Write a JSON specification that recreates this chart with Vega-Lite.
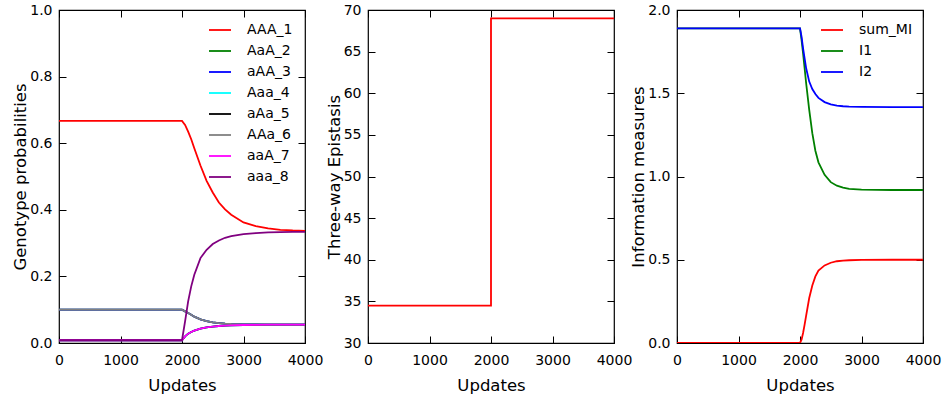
{
  "$schema": "https://vega.github.io/schema/vega-lite/v6.json",
  "padding": {"left": 12, "top": 2, "right": 5, "bottom": 5},
  "background": "white",
  "spacing": 63,
  "bounds": "flush",
  "config": {
    "font": "DejaVu Sans",
    "view": {"stroke": "#000", "strokeWidth": 1.2},
    "axis": {
      "domain": false, "grid": false,
      "labelFont": "DejaVu Sans", "labelFontSize": 14, "labelColor": "#000",
      "titleFont": "DejaVu Sans", "titleFontSize": 16.5, "titleFontWeight": "normal", "titleColor": "#000",
      "tickColor": "#000", "tickSize": -7, "tickWidth": 1,
      "labelFlush": false, "labelOverlap": false
    },
    "axisX": {"labelPadding": 17, "titlePadding": 10, "format": "d"},
    "axisY": {"labelPadding": 14, "titlePadding": 1},
    "legend": {
      "labelFont": "DejaVu Sans", "labelFontSize": 14, "labelColor": "#000",
      "symbolType": "stroke", "symbolStrokeWidth": 2, "symbolSize": 484,
      "padding": 0, "rowPadding": 2, "labelOffset": 15
    },
    "line": {"strokeWidth": 1.8}
  },
  "resolve": {"scale": {"color": "independent"}, "legend": {"color": "independent"}},
  "datasets": {
    "geno": [
      {"t": 0, "g": "AAA_1", "p": 0.667}, {"t": 2000, "g": "AAA_1", "p": 0.667}, {"t": 2050, "g": "AAA_1", "p": 0.655}, {"t": 2100, "g": "AAA_1", "p": 0.635}, {"t": 2150, "g": "AAA_1", "p": 0.612}, {"t": 2200, "g": "AAA_1", "p": 0.585}, {"t": 2300, "g": "AAA_1", "p": 0.533}, {"t": 2400, "g": "AAA_1", "p": 0.487}, {"t": 2500, "g": "AAA_1", "p": 0.452}, {"t": 2600, "g": "AAA_1", "p": 0.422}, {"t": 2700, "g": "AAA_1", "p": 0.401}, {"t": 2800, "g": "AAA_1", "p": 0.385}, {"t": 3000, "g": "AAA_1", "p": 0.362}, {"t": 3200, "g": "AAA_1", "p": 0.351}, {"t": 3400, "g": "AAA_1", "p": 0.344}, {"t": 3600, "g": "AAA_1", "p": 0.34}, {"t": 3800, "g": "AAA_1", "p": 0.338}, {"t": 4000, "g": "AAA_1", "p": 0.337},

      {"t": 0, "g": "AaA_2", "p": 0.1}, {"t": 2000, "g": "AaA_2", "p": 0.1}, {"t": 2050, "g": "AaA_2", "p": 0.095}, {"t": 2100, "g": "AaA_2", "p": 0.09}, {"t": 2150, "g": "AaA_2", "p": 0.085}, {"t": 2200, "g": "AaA_2", "p": 0.079}, {"t": 2300, "g": "AaA_2", "p": 0.071}, {"t": 2400, "g": "AaA_2", "p": 0.066}, {"t": 2500, "g": "AaA_2", "p": 0.062}, {"t": 2600, "g": "AaA_2", "p": 0.06}, {"t": 2700, "g": "AaA_2", "p": 0.058}, {"t": 2800, "g": "AaA_2", "p": 0.057}, {"t": 3000, "g": "AaA_2", "p": 0.056}, {"t": 3200, "g": "AaA_2", "p": 0.0555}, {"t": 3400, "g": "AaA_2", "p": 0.055}, {"t": 3600, "g": "AaA_2", "p": 0.055}, {"t": 3800, "g": "AaA_2", "p": 0.055}, {"t": 4000, "g": "AaA_2", "p": 0.055},

      {"t": 0, "g": "aAA_3", "p": 0.1}, {"t": 2000, "g": "aAA_3", "p": 0.1}, {"t": 2050, "g": "aAA_3", "p": 0.095}, {"t": 2100, "g": "aAA_3", "p": 0.09}, {"t": 2150, "g": "aAA_3", "p": 0.085}, {"t": 2200, "g": "aAA_3", "p": 0.079}, {"t": 2300, "g": "aAA_3", "p": 0.071}, {"t": 2400, "g": "aAA_3", "p": 0.066}, {"t": 2500, "g": "aAA_3", "p": 0.062}, {"t": 2600, "g": "aAA_3", "p": 0.06}, {"t": 2700, "g": "aAA_3", "p": 0.058}, {"t": 2800, "g": "aAA_3", "p": 0.057}, {"t": 3000, "g": "aAA_3", "p": 0.056}, {"t": 3200, "g": "aAA_3", "p": 0.0555}, {"t": 3400, "g": "aAA_3", "p": 0.055}, {"t": 3600, "g": "aAA_3", "p": 0.055}, {"t": 3800, "g": "aAA_3", "p": 0.055}, {"t": 4000, "g": "aAA_3", "p": 0.055},

      {"t": 0, "g": "Aaa_4", "p": 0.0083}, {"t": 2000, "g": "Aaa_4", "p": 0.0083}, {"t": 2050, "g": "Aaa_4", "p": 0.02}, {"t": 2100, "g": "Aaa_4", "p": 0.028}, {"t": 2150, "g": "Aaa_4", "p": 0.033}, {"t": 2200, "g": "Aaa_4", "p": 0.037}, {"t": 2300, "g": "Aaa_4", "p": 0.043}, {"t": 2400, "g": "Aaa_4", "p": 0.047}, {"t": 2500, "g": "Aaa_4", "p": 0.049}, {"t": 2600, "g": "Aaa_4", "p": 0.051}, {"t": 2700, "g": "Aaa_4", "p": 0.052}, {"t": 2800, "g": "Aaa_4", "p": 0.053}, {"t": 3000, "g": "Aaa_4", "p": 0.054}, {"t": 3200, "g": "Aaa_4", "p": 0.0545}, {"t": 3400, "g": "Aaa_4", "p": 0.055}, {"t": 3600, "g": "Aaa_4", "p": 0.055}, {"t": 3800, "g": "Aaa_4", "p": 0.055}, {"t": 4000, "g": "Aaa_4", "p": 0.055},

      {"t": 0, "g": "aAa_5", "p": 0.0083}, {"t": 2000, "g": "aAa_5", "p": 0.0083}, {"t": 2050, "g": "aAa_5", "p": 0.02}, {"t": 2100, "g": "aAa_5", "p": 0.028}, {"t": 2150, "g": "aAa_5", "p": 0.033}, {"t": 2200, "g": "aAa_5", "p": 0.037}, {"t": 2300, "g": "aAa_5", "p": 0.043}, {"t": 2400, "g": "aAa_5", "p": 0.047}, {"t": 2500, "g": "aAa_5", "p": 0.049}, {"t": 2600, "g": "aAa_5", "p": 0.051}, {"t": 2700, "g": "aAa_5", "p": 0.052}, {"t": 2800, "g": "aAa_5", "p": 0.053}, {"t": 3000, "g": "aAa_5", "p": 0.054}, {"t": 3200, "g": "aAa_5", "p": 0.0545}, {"t": 3400, "g": "aAa_5", "p": 0.055}, {"t": 3600, "g": "aAa_5", "p": 0.055}, {"t": 3800, "g": "aAa_5", "p": 0.055}, {"t": 4000, "g": "aAa_5", "p": 0.055},

      {"t": 0, "g": "AAa_6", "p": 0.1}, {"t": 2000, "g": "AAa_6", "p": 0.1}, {"t": 2050, "g": "AAa_6", "p": 0.095}, {"t": 2100, "g": "AAa_6", "p": 0.09}, {"t": 2150, "g": "AAa_6", "p": 0.085}, {"t": 2200, "g": "AAa_6", "p": 0.079}, {"t": 2300, "g": "AAa_6", "p": 0.071}, {"t": 2400, "g": "AAa_6", "p": 0.066}, {"t": 2500, "g": "AAa_6", "p": 0.062}, {"t": 2600, "g": "AAa_6", "p": 0.06}, {"t": 2700, "g": "AAa_6", "p": 0.058}, {"t": 2800, "g": "AAa_6", "p": 0.057}, {"t": 3000, "g": "AAa_6", "p": 0.056}, {"t": 3200, "g": "AAa_6", "p": 0.0555}, {"t": 3400, "g": "AAa_6", "p": 0.055}, {"t": 3600, "g": "AAa_6", "p": 0.055}, {"t": 3800, "g": "AAa_6", "p": 0.055}, {"t": 4000, "g": "AAa_6", "p": 0.055},

      {"t": 0, "g": "aaA_7", "p": 0.0083}, {"t": 2000, "g": "aaA_7", "p": 0.0083}, {"t": 2050, "g": "aaA_7", "p": 0.02}, {"t": 2100, "g": "aaA_7", "p": 0.028}, {"t": 2150, "g": "aaA_7", "p": 0.033}, {"t": 2200, "g": "aaA_7", "p": 0.037}, {"t": 2300, "g": "aaA_7", "p": 0.043}, {"t": 2400, "g": "aaA_7", "p": 0.047}, {"t": 2500, "g": "aaA_7", "p": 0.049}, {"t": 2600, "g": "aaA_7", "p": 0.051}, {"t": 2700, "g": "aaA_7", "p": 0.052}, {"t": 2800, "g": "aaA_7", "p": 0.053}, {"t": 3000, "g": "aaA_7", "p": 0.054}, {"t": 3200, "g": "aaA_7", "p": 0.0545}, {"t": 3400, "g": "aaA_7", "p": 0.055}, {"t": 3600, "g": "aaA_7", "p": 0.055}, {"t": 3800, "g": "aaA_7", "p": 0.055}, {"t": 4000, "g": "aaA_7", "p": 0.055},

      {"t": 0, "g": "aaa_8", "p": 0.0083}, {"t": 2000, "g": "aaa_8", "p": 0.0083}, {"t": 2050, "g": "aaa_8", "p": 0.065}, {"t": 2100, "g": "aaa_8", "p": 0.125}, {"t": 2150, "g": "aaa_8", "p": 0.17}, {"t": 2200, "g": "aaa_8", "p": 0.205}, {"t": 2300, "g": "aaa_8", "p": 0.255}, {"t": 2400, "g": "aaa_8", "p": 0.28}, {"t": 2500, "g": "aaa_8", "p": 0.297}, {"t": 2600, "g": "aaa_8", "p": 0.308}, {"t": 2700, "g": "aaa_8", "p": 0.316}, {"t": 2800, "g": "aaa_8", "p": 0.321}, {"t": 3000, "g": "aaa_8", "p": 0.327}, {"t": 3200, "g": "aaa_8", "p": 0.33}, {"t": 3400, "g": "aaa_8", "p": 0.332}, {"t": 3600, "g": "aaa_8", "p": 0.333}, {"t": 3800, "g": "aaa_8", "p": 0.334}, {"t": 4000, "g": "aaa_8", "p": 0.334}
    ],
    "epi": [
      {"t": 0, "e": 34.5}, {"t": 2000, "e": 69}, {"t": 4000, "e": 69}
    ],
    "info": [
      {"t": 0, "m": "sum_MI", "v": 0}, {"t": 2000, "m": "sum_MI", "v": 0}, {"t": 2025, "m": "sum_MI", "v": 0.02}, {"t": 2050, "m": "sum_MI", "v": 0.06}, {"t": 2075, "m": "sum_MI", "v": 0.11}, {"t": 2100, "m": "sum_MI", "v": 0.165}, {"t": 2150, "m": "sum_MI", "v": 0.27}, {"t": 2200, "m": "sum_MI", "v": 0.345}, {"t": 2250, "m": "sum_MI", "v": 0.4}, {"t": 2300, "m": "sum_MI", "v": 0.435}, {"t": 2400, "m": "sum_MI", "v": 0.466}, {"t": 2500, "m": "sum_MI", "v": 0.482}, {"t": 2600, "m": "sum_MI", "v": 0.491}, {"t": 2700, "m": "sum_MI", "v": 0.495}, {"t": 2800, "m": "sum_MI", "v": 0.497}, {"t": 3000, "m": "sum_MI", "v": 0.499}, {"t": 3500, "m": "sum_MI", "v": 0.5}, {"t": 4000, "m": "sum_MI", "v": 0.5},

      {"t": 0, "m": "I1", "v": 1.89}, {"t": 2000, "m": "I1", "v": 1.89}, {"t": 2025, "m": "I1", "v": 1.82}, {"t": 2050, "m": "I1", "v": 1.74}, {"t": 2075, "m": "I1", "v": 1.65}, {"t": 2100, "m": "I1", "v": 1.56}, {"t": 2150, "m": "I1", "v": 1.4}, {"t": 2200, "m": "I1", "v": 1.26}, {"t": 2250, "m": "I1", "v": 1.155}, {"t": 2300, "m": "I1", "v": 1.085}, {"t": 2400, "m": "I1", "v": 1.01}, {"t": 2500, "m": "I1", "v": 0.966}, {"t": 2600, "m": "I1", "v": 0.945}, {"t": 2700, "m": "I1", "v": 0.933}, {"t": 2800, "m": "I1", "v": 0.926}, {"t": 3000, "m": "I1", "v": 0.921}, {"t": 3500, "m": "I1", "v": 0.919}, {"t": 4000, "m": "I1", "v": 0.919},

      {"t": 0, "m": "I2", "v": 1.89}, {"t": 2000, "m": "I2", "v": 1.89}, {"t": 2025, "m": "I2", "v": 1.84}, {"t": 2050, "m": "I2", "v": 1.77}, {"t": 2075, "m": "I2", "v": 1.71}, {"t": 2100, "m": "I2", "v": 1.65}, {"t": 2150, "m": "I2", "v": 1.57}, {"t": 2200, "m": "I2", "v": 1.525}, {"t": 2250, "m": "I2", "v": 1.495}, {"t": 2300, "m": "I2", "v": 1.472}, {"t": 2400, "m": "I2", "v": 1.447}, {"t": 2500, "m": "I2", "v": 1.433}, {"t": 2600, "m": "I2", "v": 1.426}, {"t": 2700, "m": "I2", "v": 1.422}, {"t": 2800, "m": "I2", "v": 1.42}, {"t": 3000, "m": "I2", "v": 1.418}, {"t": 3500, "m": "I2", "v": 1.417}, {"t": 4000, "m": "I2", "v": 1.417}
    ]
  },
  "hconcat": [
    {
      "width": 246, "height": 333,
      "data": {"name": "geno"},
      "layer": [
        {
          "mark": {"type": "line", "clip": true},
          "encoding": {
            "x": {"field": "t", "type": "quantitative", "scale": {"domain": [0, 4000], "nice": false, "zero": false}, "axis": {"orient": "bottom", "values": [0, 1000, 2000, 3000, 4000], "title": "Updates"}},
            "y": {"field": "p", "type": "quantitative", "scale": {"domain": [0, 1], "nice": false}, "axis": {"orient": "left", "values": [0, 0.2, 0.4, 0.6, 0.8, 1.0], "format": ".1f", "title": "Genotype probabilities"}},
            "color": {"field": "g", "type": "nominal",
              "scale": {"domain": ["AAA_1", "AaA_2", "aAA_3", "Aaa_4", "aAa_5", "AAa_6", "aaA_7", "aaa_8"], "range": ["#ff0000", "#008000", "#0000ff", "#00ffff", "#000000", "#808080", "#ff00ff", "#800080"]},
              "legend": {"title": null, "orient": "none", "legendX": 149, "legendY": 8}}
          }
        },
        {
          "mark": {"type": "line", "opacity": 0},
          "encoding": {
            "x": {"field": "t", "type": "quantitative", "axis": {"orient": "top", "values": [0, 1000, 2000, 3000, 4000], "labels": false, "title": null}},
            "y": {"field": "p", "type": "quantitative", "axis": {"orient": "right", "values": [0, 0.2, 0.4, 0.6, 0.8, 1.0], "labels": false, "title": null}},
            "detail": {"field": "g"}
          }
        }
      ]
    },
    {
      "width": 246, "height": 333,
      "data": {"name": "epi"},
      "layer": [
        {
          "mark": {"type": "line", "interpolate": "step-after", "color": "#ff0000", "clip": true},
          "encoding": {
            "x": {"field": "t", "type": "quantitative", "scale": {"domain": [0, 4000], "nice": false, "zero": false}, "axis": {"orient": "bottom", "values": [0, 1000, 2000, 3000, 4000], "title": "Updates"}},
            "y": {"field": "e", "type": "quantitative", "scale": {"domain": [30, 70], "nice": false, "zero": false}, "axis": {"orient": "left", "values": [30, 35, 40, 45, 50, 55, 60, 65, 70], "title": "Three-way Epistasis"}}
          }
        },
        {
          "mark": {"type": "line", "opacity": 0},
          "encoding": {
            "x": {"field": "t", "type": "quantitative", "axis": {"orient": "top", "values": [0, 1000, 2000, 3000, 4000], "labels": false, "title": null}},
            "y": {"field": "e", "type": "quantitative", "axis": {"orient": "right", "values": [30, 35, 40, 45, 50, 55, 60, 65, 70], "labels": false, "title": null}}
          }
        }
      ]
    },
    {
      "width": 246, "height": 333,
      "data": {"name": "info"},
      "layer": [
        {
          "mark": {"type": "line", "clip": true},
          "encoding": {
            "x": {"field": "t", "type": "quantitative", "scale": {"domain": [0, 4000], "nice": false, "zero": false}, "axis": {"orient": "bottom", "values": [0, 1000, 2000, 3000, 4000], "title": "Updates"}},
            "y": {"field": "v", "type": "quantitative", "scale": {"domain": [0, 2], "nice": false}, "axis": {"orient": "left", "values": [0, 0.5, 1.0, 1.5, 2.0], "format": ".1f", "title": "Information measures"}},
            "color": {"field": "m", "type": "nominal",
              "scale": {"domain": ["sum_MI", "I1", "I2"], "range": ["#ff0000", "#008000", "#0000ff"]},
              "legend": {"title": null, "orient": "none", "legendX": 143, "legendY": 8}}
          }
        },
        {
          "mark": {"type": "line", "opacity": 0},
          "encoding": {
            "x": {"field": "t", "type": "quantitative", "axis": {"orient": "top", "values": [0, 1000, 2000, 3000, 4000], "labels": false, "title": null}},
            "y": {"field": "v", "type": "quantitative", "axis": {"orient": "right", "values": [0, 0.5, 1.0, 1.5, 2.0], "labels": false, "title": null}},
            "detail": {"field": "m"}
          }
        }
      ]
    }
  ]
}
